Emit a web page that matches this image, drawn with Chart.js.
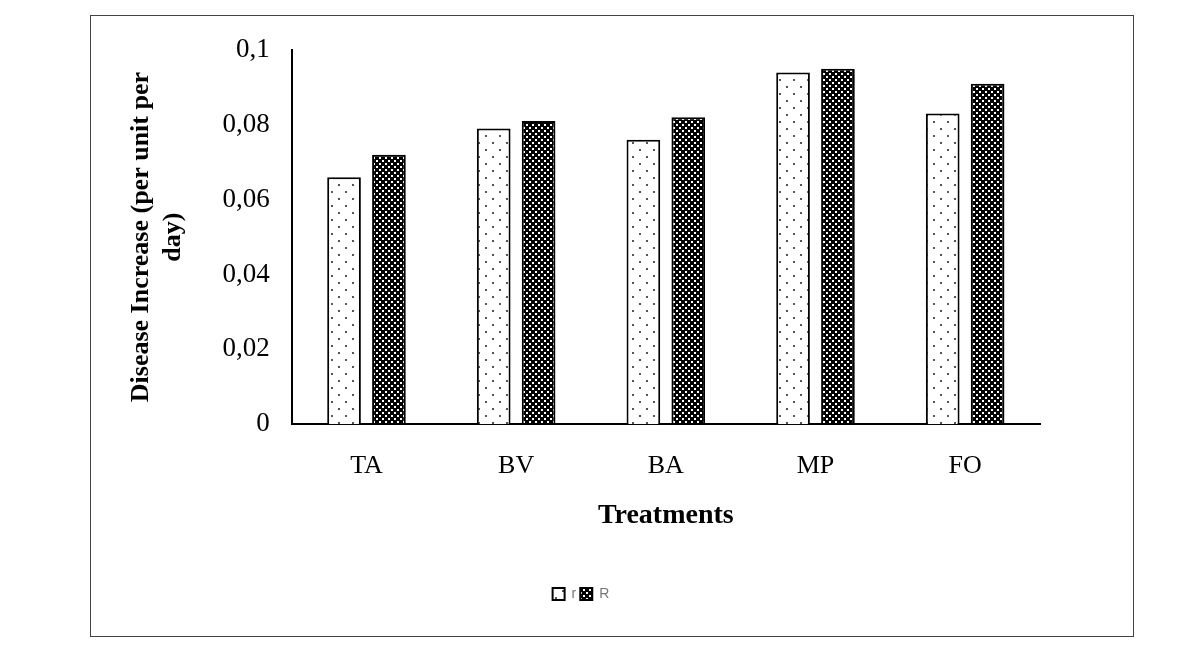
<!DOCTYPE html>
<html><head><meta charset="utf-8">
<script src="https://cdn.jsdelivr.net/npm/chart.js@4"></script>
<style>html,body{margin:0;background:#fff}#wrap{width:1201px;height:651px}</style>
</head><body><div id="wrap"><canvas id="c" width="1201" height="651"></canvas></div>
<script>
const categories = ['TA', 'BV', 'BA', 'MP', 'FO'];
const rValues = [0.066, 0.079, 0.076, 0.094, 0.083];
const RValues = [0.072, 0.081, 0.082, 0.095, 0.091];

// sparse dots pattern
function dotPattern() {
  const c = document.createElement('canvas'); c.width = 14; c.height = 14;
  const g = c.getContext('2d');
  g.fillStyle = '#fff'; g.fillRect(0, 0, 14, 14);
  g.fillStyle = '#555';
  g.fillRect(2, 2, 2, 2); g.fillRect(9, 9, 2, 2);
  return g.createPattern(c, 'repeat');
}
// dense checker pattern
function checkPattern() {
  const c = document.createElement('canvas'); c.width = 6; c.height = 6;
  const g = c.getContext('2d');
  g.fillStyle = '#000'; g.fillRect(0, 0, 6, 6);
  g.fillStyle = '#fff';
  g.fillRect(1, 1, 2, 2); g.fillRect(4, 4, 2, 2);
  return g.createPattern(c, 'repeat');
}

const frame = {
  id: 'frame',
  afterDraw(chart) {
    const ctx = chart.ctx;
    ctx.save(); ctx.strokeStyle = '#444'; ctx.lineWidth = 1;
    ctx.strokeRect(90.5, 15.5, 1043, 621); ctx.restore();
  }
};

new Chart(document.getElementById('c'), {
  type: 'bar',
  data: {
    labels: categories,
    datasets: [
      { label: 'r', data: rValues, backgroundColor: dotPattern(), borderColor: '#000', borderWidth: 2, borderSkipped: 'bottom' },
      { label: 'R', data: RValues, backgroundColor: checkPattern(), borderColor: '#000', borderWidth: 2, borderSkipped: 'bottom' }
    ]
  },
  options: {
    responsive: false,
    animation: false,
    categoryPercentage: 0.6,
    barPercentage: 0.75,
    layout: { padding: { left: 122, right: 161, top: 50, bottom: 40 } },
    plugins: {
      tooltip: { enabled: false },
      legend: {
        position: 'bottom',
        labels: { color: '#777', font: { family: 'Liberation Sans', size: 14 }, boxWidth: 12, boxHeight: 12, padding: 4 }
      }
    },
    scales: {
      x: {
        grid: { display: false },
        border: { color: '#000', width: 2 },
        ticks: { color: '#000', font: { family: 'Liberation Serif', size: 26 }, padding: 18 },
        title: { display: true, text: 'Treatments', color: '#000', font: { family: 'Liberation Serif', size: 28, weight: 'bold' }, padding: { top: 0, bottom: 50 } }
      },
      y: {
        min: 0, max: 0.1,
        grid: { display: false, drawTicks: true },
        border: { color: '#000', width: 2 },
        ticks: { stepSize: 0.02, color: '#000', font: { family: 'Liberation Serif', size: 27 }, padding: 14,
          callback: v => v === 0 ? '0' : String(+v.toFixed(2)).replace('.', ',') },
        title: { display: true, text: ['Disease Increase (per unit per', 'day)'], color: '#000', font: { family: 'Liberation Serif', size: 26, weight: 'bold' }, padding: { bottom: 20 } }
      }
    }
  },
  plugins: [frame]
});
</script></body></html>
